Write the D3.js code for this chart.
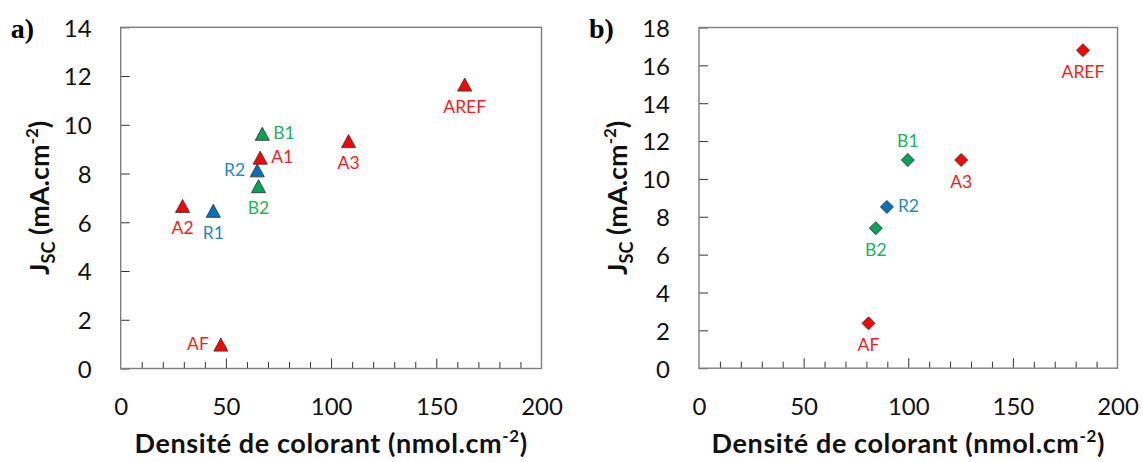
<!DOCTYPE html>
<html>
<head>
<meta charset="utf-8">
<script src="https://cdn.jsdelivr.net/npm/d3@7"></script>
<style>
  html, body { margin: 0; padding: 0; background: #fff; }
  svg { display: block; }
</style>
</head>
<body>
<svg id="chart" width="1143" height="462"></svg>
<script>
// ---------- Data ----------
// Panel a)
const namesA  = ["A2", "R1", "AF", "R2", "B2", "A1", "B1", "A3", "AREF"];
const groupsA = ["A",  "R",  "A",  "R",  "B",  "A",  "B",  "A",  "A"];
const xA      = [29.4, 44.0, 47.6, 64.9, 65.5, 66.3, 67.3, 108.3, 163.5];
const yA      = [6.67, 6.47, 0.98, 8.13, 7.48, 8.65, 9.63, 9.33, 11.65];
// Panel b)
const namesB  = ["AF", "B2", "R2", "B1", "A3", "AREF"];
const groupsB = ["A",  "B",  "R",  "B",  "A",  "A"];
const xB      = [81.0, 84.5, 89.8, 99.8, 125.3, 183.5];
const yB      = [2.37, 7.40, 8.52, 11.0, 11.0, 16.8];

const xTicks  = [0, 50, 100, 150, 200];
const yTicksA = [0, 2, 4, 6, 8, 10, 12, 14];
const yTicksB = [0, 2, 4, 6, 8, 10, 12, 14, 16, 18];

// ---------- Layout / style (not data) ----------
const labelSideA = ["below", "below", "left", "left", "below", "right", "right", "below", "below"];
const labelSideB = ["below", "below", "right", "above", "below", "below"];
const markerFill = { A: "#FF0000", B: "#00A651", R: "#0070C0" };
const labelFill  = { A: "#FF1A1A", B: "#19B55A", R: "#2A85D0" };
const FONT = "Lato, 'Open Sans', sans-serif";

const svg = d3.select("#chart");

const triangleType = {
  draw(ctx, s) { // s = box side
    const w = s * 1.08, h = s;
    ctx.moveTo(0, -h / 2);
    ctx.lineTo(w / 2, h / 2);
    ctx.lineTo(-w / 2, h / 2);
    ctx.closePath();
  }
};
const diamondType = {
  draw(ctx, s) {
    const r = s / 2;
    ctx.moveTo(0, -r);
    ctx.lineTo(r, 0);
    ctx.lineTo(0, r);
    ctx.lineTo(-r, 0);
    ctx.closePath();
  }
};

function panel(cfg) {
  const g = svg.append("g");
  const x = d3.scaleLinear().domain([0, 200]).range([cfg.left, cfg.right]);
  const y = d3.scaleLinear().domain([0, cfg.ymax]).range([cfg.bottom, cfg.top]);

  // x minor ticks (inside, every 10) and major (every 50)
  const minor = d3.range(10, 200, 10);
  g.append("g")
    .attr("transform", `translate(0,${cfg.bottom})`)
    .call(d3.axisBottom(x).tickValues(minor).tickSize(-6.5).tickFormat(""))
    .call(a => a.select(".domain").remove())
    .call(a => a.selectAll("line").attr("stroke", "#333").attr("stroke-width", 1)
      .attr("y2", d => d % 50 === 0 ? -10 : -6.5));

  // x tick labels
  g.append("g")
    .attr("transform", `translate(0,${cfg.bottom})`)
    .call(d3.axisBottom(x).tickValues(xTicks).tickSize(0).tickPadding(0).tickFormat(d3.format("d")))
    .call(a => a.select(".domain").remove())
    .call(a => a.selectAll("text")
      .attr("y", 46.5).attr("dy", null)
      .attr("font-family", FONT).attr("font-size", 24).attr("fill", "#111"));

  // y ticks (inside) + labels
  g.append("g")
    .attr("transform", `translate(${cfg.left},0)`)
    .call(d3.axisLeft(y).tickValues(cfg.yTicks).tickSize(-9).tickPadding(0).tickFormat(d3.format("d")))
    .call(a => a.select(".domain").remove())
    .call(a => a.selectAll("line").attr("stroke", "#333").attr("stroke-width", 1))
    .call(a => a.selectAll("text")
      .attr("x", -29).attr("dy", "0.37em")
      .attr("text-anchor", "end")
      .attr("font-family", FONT).attr("font-size", 24).attr("fill", "#111"));

  // plot frame
  g.append("rect")
    .attr("x", cfg.left).attr("y", cfg.top)
    .attr("width", cfg.right - cfg.left).attr("height", cfg.bottom - cfg.top)
    .attr("fill", "none").attr("stroke", "#7f7f7f").attr("stroke-width", 1.4);

  // markers
  const sym = d3.symbol().type(cfg.symbol).size(cfg.msize);
  const idx = d3.range(cfg.names.length);
  g.append("g").selectAll("path").data(idx).join("path")
    .attr("d", sym)
    .attr("transform", i => `translate(${x(cfg.xs[i])},${y(cfg.ys[i])})`)
    .attr("fill", i => markerFill[cfg.groups[i]])
    .attr("stroke", "#3a3a3a").attr("stroke-width", 0.9);

  // point labels
  const off = {
    below: [0, 28, "middle"],
    above: [0, -13, "middle"],
    right: [11, 5.5, "start"],
    left:  [-12, 5.5, "end"]
  };
  g.append("g").selectAll("text").data(idx).join("text")
    .attr("x", i => x(cfg.xs[i]) + off[cfg.sides[i]][0])
    .attr("y", i => y(cfg.ys[i]) + off[cfg.sides[i]][1])
    .attr("text-anchor", i => off[cfg.sides[i]][2])
    .attr("font-family", FONT).attr("font-size", 17.5)
    .attr("fill", i => labelFill[cfg.groups[i]])
    .text(i => cfg.names[i]);

  // x title
  const xt = g.append("text")
    .attr("x", (cfg.left + cfg.right) / 2).attr("y", 453)
    .attr("text-anchor", "middle")
    .attr("letter-spacing", 0.6)
    .attr("font-family", FONT).attr("font-size", 27).attr("font-weight", "bold").attr("fill", "#111");
  xt.append("tspan").text("Densité de colorant (nmol.cm");
  xt.append("tspan").attr("dy", -11).attr("font-size", 17).text("-2");
  xt.append("tspan").attr("dy", 11).text(")");

  // y title
  const yt = g.append("text")
    .attr("transform", `translate(${cfg.left - 72},${(cfg.top + cfg.bottom) / 2}) rotate(-90)`)
    .attr("text-anchor", "middle")
    .attr("font-family", FONT).attr("font-size", 27).attr("font-weight", "bold").attr("fill", "#111");
  yt.append("tspan").text("J");
  yt.append("tspan").attr("dy", 6).attr("font-size", 18).text("SC");
  yt.append("tspan").attr("dy", -6).text(" (mA.cm");
  yt.append("tspan").attr("dy", -11).attr("font-size", 17).text("-2");
  yt.append("tspan").attr("dy", 11).text(")");

  // panel letter
  g.append("text")
    .attr("x", cfg.left - 110).attr("y", 38)
    .attr("font-family", "'Liberation Serif', 'DejaVu Serif', serif")
    .attr("font-size", 28).attr("font-weight", "bold").attr("fill", "#000")
    .text(cfg.letter);
}

panel({
  left: 120.7, right: 541.5, top: 27.3, bottom: 368.5, ymax: 14, yTicks: yTicksA,
  names: namesA, groups: groupsA, xs: xA, ys: yA, sides: labelSideA,
  symbol: triangleType, msize: 13, letter: "a)"
});
panel({
  left: 699, right: 1117.5, top: 27.5, bottom: 368.2, ymax: 18, yTicks: yTicksB,
  names: namesB, groups: groupsB, xs: xB, ys: yB, sides: labelSideB,
  symbol: diamondType, msize: 13, letter: "b)"
});
</script>
</body>
</html>
